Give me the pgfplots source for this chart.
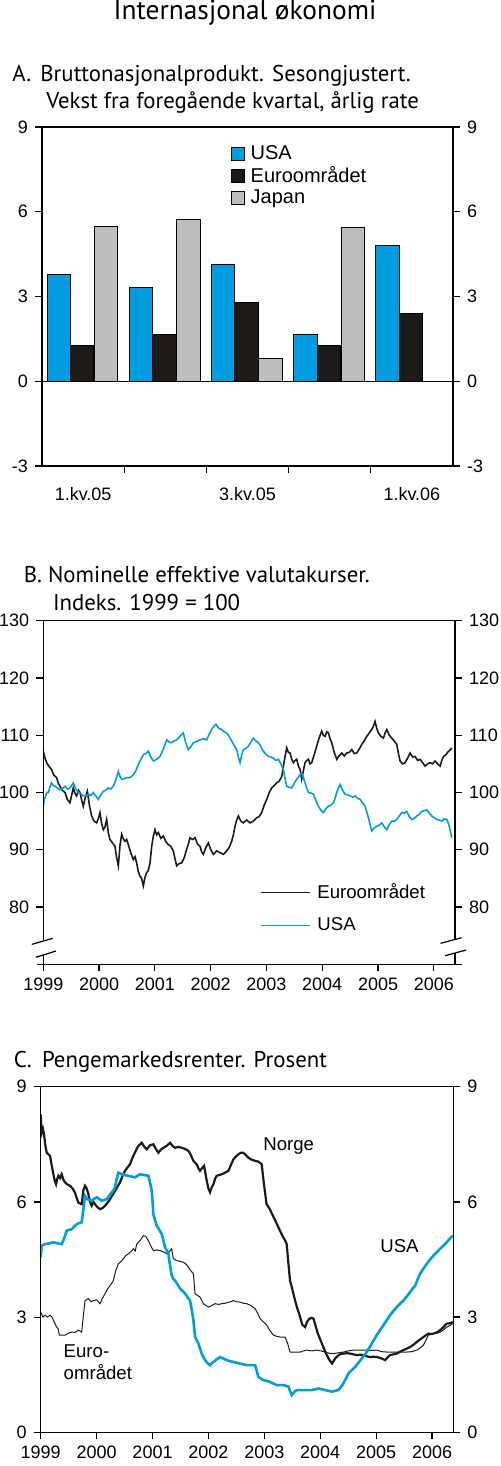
\documentclass[border=0pt]{standalone}
\usepackage{fontspec}
\setmainfont{Liberation Sans}
\newfontfamily\titlefont{PT Sans}
\usepackage{pgfplots}
\pgfplotsset{compat=1.18}
\definecolor{usablue}{RGB}{0,158,224}
\definecolor{eurblack}{RGB}{30,26,23}
\definecolor{japgray}{RGB}{190,190,190}
\newcommand{\tickf}{\fontsize{9}{10}\selectfont}
\newcommand{\labf}{\fontsize{9.3}{11}\selectfont}
\newcommand{\ptitle}{\titlefont\fontsize{11.4}{13}\selectfont}
\pgfplotsset{
  base/.style={scale only axis, anchor=north west,
    axis line style={line width=0.6pt},
    every tick/.style={line width=0.6pt, black},
    tick align=outside, major tick length=3.5pt,
    ticklabel style={font=\tickf},
    /pgf/number format/assume math mode=true,
    /pgf/number format/1000 sep={},
  },
}
\begin{document}
\begin{tikzpicture}
\path[use as bounding box] (0,0) rectangle (250pt,-733pt);
% main title
\node[anchor=base, font=\titlefont\fontsize{13.7}{16}\selectfont, inner sep=0pt] at (122.5pt,-10pt) {Internasjonal økonomi};
% panel titles
\node[anchor=base west, font=\ptitle, inner sep=0pt] at (6pt,-40.8pt) {A.};
\node[anchor=base west, font=\ptitle, inner sep=0pt] at (20pt,-40.8pt) {Bruttonasjonalprodukt. Sesongjustert.};
\node[anchor=base west, font=\ptitle, inner sep=0pt] at (23pt,-54.2pt) {Vekst fra foregående kvartal, årlig rate};
\node[anchor=base west, font=\ptitle, inner sep=0pt] at (11.7pt,-291.2pt) {B. Nominelle effektive valutakurser.};
\node[anchor=base west, font=\ptitle, inner sep=0pt] at (26.3pt,-305pt) {Indeks. 1999 = 100};
\node[anchor=base west, font=\ptitle, inner sep=0pt] at (6.7pt,-533.8pt) {C.};
\node[anchor=base west, font=\ptitle, inner sep=0pt] at (20.8pt,-533.8pt) {Pengemarkedsrenter. Prosent};

%%%%%%%%%%%%%%%% Panel A
\begin{axis}[base, at={(21pt,-63.5pt)}, width=205.5pt, height=169.5pt,
  xmin=0.5, xmax=5.5, ymin=-3, ymax=9, ytick={-3,0,3,6,9}, ytick pos=left,
  xtick={1.5,2.5,3.5,4.5}, xticklabels={}, xtick pos=left,
  extra x ticks={1,3,5}, extra x tick labels={1.kv.05,3.kv.05,1.kv.06},
  extra x tick style={major tick length=0pt, tick label style={yshift=-7pt}},
  legend style={at={(axis description cs:0.46,0.955)}, anchor=north west, draw=none, fill=none,
    font=\fontsize{10}{11}\selectfont, inner sep=0pt, row sep=-1.1pt,
    nodes={inner sep=1.5pt}},
  legend cell align=left,
  legend image code/.code={\draw[#1, line width=0.5pt] (0pt,-3.2pt) rectangle (6.4pt,3.2pt);},
  /tikz/every odd column/.append style={column sep=1.2pt},
]
\addplot[black, line width=0.6pt, forget plot] coordinates {(0.5,0) (5.5,0)};
\addplot[ybar, bar width=0.285, bar shift=-0.295, fill=usablue, draw=black, line width=0.5pt]
  coordinates {(1,3.77) (2,3.33) (3,4.15) (4,1.66) (5,4.80)};
\addplot[ybar, bar width=0.285, bar shift=-0.01, fill=eurblack, draw=black, line width=0.5pt]
  coordinates {(1,1.27) (2,1.66) (3,2.78) (4,1.27) (5,2.39)};
\addplot[ybar, bar width=0.285, bar shift=0.28, fill=japgray, draw=black, line width=0.5pt]
  coordinates {(1,5.48) (2,5.71) (3,0.82) (4,5.44)};
\legend{USA, Euroområdet, Japan}
\end{axis}
\begin{axis}[base, at={(21pt,-63.5pt)}, width=205.5pt, height=169.5pt,
  xmin=0.5, xmax=5.5, ymin=-3, ymax=9, ytick={-3,0,3,6,9},
  hide x axis, ytick pos=right, yticklabel pos=right]
\end{axis}

%%%%%%%%%%%%%%%% Panel B
\begin{axis}[base, at={(21.65pt,-310.35pt)}, width=205.85pt, height=171.8pt,
  xmin=0, xmax=7.38, ymin=70, ymax=130, ytick={80,90,100,110,120,130}, ytick pos=left,
  xtick={0,1,2,3,4,5,6,7}, xticklabels={1999,2000,2001,2002,2003,2004,2005,2006}, xtick pos=left,
  legend style={at={(axis description cs:0.525,0.245)}, anchor=north west, draw=none, fill=none,
    font=\labf, inner sep=0pt, row sep=5pt, nodes={inner sep=1.5pt}},
  legend cell align=left,
  legend image code/.code={\draw[#1] (0pt,0pt) -- (24.5pt,0pt);},
  /tikz/every odd column/.append style={column sep=2pt},
]
\addplot[eurblack, line width=0.8pt] coordinates {
(0,107.2)(0.030,106.0)(0.060,105.2)(0.100,104.6)(0.149,104.0)(0.190,103.0)(0.239,102.6)(0.270,101.6)(0.299,101.1)(0.340,100.4)(0.389,100.0)(0.430,98.8)(0.478,98.2)(0.510,99.6)(0.538,100.8)(0.570,99.8)(0.598,99.4)(0.630,100.4)(0.658,100.0)(0.690,98.6)(0.717,97.6)(0.750,99.0)(0.789,100.2)(0.830,97.6)(0.867,95.9)(0.910,95.0)(0.956,94.7)(0.985,95.4)(1.016,96.5)(1.046,94.6)(1.076,93.5)(1.106,94.0)(1.136,95.3)(1.165,93.0)(1.195,91.8)(1.240,91.2)(1.285,90.6)(1.315,88.6)(1.345,87.2)(1.375,90.8)(1.405,92.7)(1.435,91.9)(1.464,91.5)(1.494,91.8)(1.524,90.9)(1.570,89.4)(1.614,88.3)(1.644,88.8)(1.674,87.7)(1.703,86.2)(1.733,85.4)(1.763,85.0)(1.793,83.7)(1.823,85.2)(1.853,86.0)(1.883,86.4)(1.913,87.7)(1.943,90.6)(1.973,92.4)(2.002,93.5)(2.032,92.6)(2.062,93.0)(2.107,92.0)(2.152,92.4)(2.197,91.4)(2.241,90.9)(2.286,90.6)(2.331,89.8)(2.361,88.4)(2.391,87.2)(2.436,87.6)(2.481,87.7)(2.525,88.6)(2.570,90.1)(2.600,91.0)(2.630,92.1)(2.675,91.8)(2.720,92.1)(2.765,91.0)(2.809,90.6)(2.839,89.6)(2.869,89.2)(2.914,90.4)(2.959,91.2)(3.004,90.0)(3.048,89.2)(3.108,89.8)(3.168,89.5)(3.228,89.2)(3.287,89.8)(3.332,90.4)(3.377,91.5)(3.407,92.6)(3.437,94.1)(3.467,95.2)(3.497,95.9)(3.541,95.0)(3.586,94.7)(3.646,95.2)(3.706,94.7)(3.765,95.0)(3.825,95.6)(3.870,95.8)(3.915,96.5)(3.960,97.8)(4.005,98.8)(4.050,100.0)(4.094,100.8)(4.139,101.2)(4.184,101.7)(4.229,102.0)(4.274,102.8)(4.304,104.6)(4.334,106.3)(4.363,107.8)(4.393,107.0)(4.423,106.9)(4.453,105.8)(4.483,105.2)(4.513,105.6)(4.543,105.8)(4.573,104.6)(4.603,104.0)(4.632,102.3)(4.662,103.8)(4.692,105.2)(4.722,105.6)(4.752,105.8)(4.782,105.0)(4.812,105.2)(4.856,106.6)(4.901,108.1)(4.946,109.6)(4.991,110.7)(5.021,110.0)(5.051,109.8)(5.081,110.6)(5.111,110.4)(5.140,109.4)(5.170,108.7)(5.215,107.0)(5.260,105.8)(5.305,106.4)(5.350,106.9)(5.395,106.4)(5.439,106.9)(5.484,107.0)(5.529,107.5)(5.574,106.8)(5.619,106.9)(5.664,107.6)(5.708,108.4)(5.753,109.0)(5.798,109.8)(5.843,110.4)(5.888,111.0)(5.918,111.6)(5.947,112.4)(5.977,111.2)(6.007,110.4)(6.052,109.8)(6.097,109.5)(6.127,110.4)(6.157,111.0)(6.202,110.0)(6.246,109.5)(6.291,109.0)(6.336,108.4)(6.366,106.8)(6.396,105.5)(6.440,105.0)(6.485,105.2)(6.530,106.0)(6.575,106.9)(6.620,106.2)(6.665,106.3)(6.710,105.6)(6.754,105.8)(6.799,105.2)(6.844,104.6)(6.889,105.0)(6.934,105.2)(6.979,105.0)(7.023,105.5)(7.068,105.0)(7.113,104.6)(7.143,105.6)(7.173,106.3)(7.218,106.6)(7.262,107.2)(7.292,107.4)(7.322,107.8)};
\addplot[usablue, line width=0.8pt] coordinates {
(0,97.6)(0.020,98.8)(0.042,99.4)(0.066,100.0)(0.090,100.0)(0.120,101.0)(0.149,101.7)(0.179,101.2)(0.209,101.1)(0.254,100.8)(0.299,100.5)(0.344,100.7)(0.389,101.1)(0.434,100.6)(0.478,100.8)(0.508,101.2)(0.538,101.7)(0.583,100.6)(0.628,100.0)(0.672,99.8)(0.717,99.4)(0.762,99.4)(0.807,99.7)(0.852,99.5)(0.897,100.0)(0.941,99.4)(0.986,98.8)(1.031,99.6)(1.076,100.2)(1.121,100.4)(1.166,100.8)(1.210,100.6)(1.255,101.1)(1.300,102.2)(1.345,103.7)(1.375,102.8)(1.405,102.3)(1.450,102.4)(1.494,102.6)(1.554,102.6)(1.614,103.1)(1.659,103.8)(1.704,104.9)(1.749,105.8)(1.793,106.6)(1.838,106.8)(1.883,107.2)(1.928,106.2)(1.973,105.5)(2.032,105.8)(2.092,106.3)(2.152,107.6)(2.212,109.2)(2.256,108.8)(2.301,108.7)(2.346,109.0)(2.391,109.2)(2.450,109.8)(2.510,110.4)(2.555,108.6)(2.600,107.5)(2.645,108.0)(2.690,108.7)(2.750,108.9)(2.809,109.2)(2.869,109.4)(2.929,109.2)(2.974,110.2)(3.019,111.0)(3.058,111.6)(3.096,111.9)(3.147,111.2)(3.198,111.0)(3.242,110.6)(3.287,110.4)(3.332,109.8)(3.377,109.0)(3.422,108.2)(3.467,107.5)(3.497,106.2)(3.527,105.2)(3.557,106.6)(3.586,107.5)(3.631,107.7)(3.676,108.1)(3.721,108.8)(3.766,109.5)(3.810,109.0)(3.855,108.7)(3.900,108.0)(3.945,107.2)(3.990,106.7)(4.035,106.3)(4.080,106.2)(4.124,106.0)(4.169,105.6)(4.214,105.8)(4.259,105.0)(4.304,104.0)(4.334,102.4)(4.363,101.1)(4.408,100.9)(4.453,100.8)(4.498,101.6)(4.543,102.3)(4.588,102.9)(4.632,103.4)(4.662,102.6)(4.692,101.7)(4.722,100.8)(4.752,100.0)(4.797,99.9)(4.842,99.7)(4.886,98.6)(4.931,97.6)(4.976,96.9)(5.021,96.5)(5.066,97.2)(5.111,97.6)(5.155,97.8)(5.200,98.2)(5.230,99.0)(5.260,100.0)(5.290,100.8)(5.320,101.4)(5.365,100.4)(5.409,99.7)(5.454,99.6)(5.499,99.4)(5.544,99.2)(5.589,99.4)(5.633,99.0)(5.678,98.8)(5.723,98.2)(5.768,97.6)(5.798,96.6)(5.828,95.6)(5.858,94.4)(5.888,93.3)(5.932,93.8)(5.977,94.1)(6.022,94.3)(6.067,94.7)(6.112,94.0)(6.157,93.5)(6.202,94.4)(6.246,95.0)(6.291,95.0)(6.336,95.3)(6.381,95.9)(6.426,96.5)(6.470,96.4)(6.515,96.7)(6.560,95.8)(6.605,95.3)(6.650,95.5)(6.695,95.9)(6.740,96.2)(6.784,96.7)(6.829,96.8)(6.874,97.0)(6.919,96.4)(6.964,95.9)(7.008,95.6)(7.053,95.3)(7.098,95.2)(7.143,95.0)(7.188,95.4)(7.233,95.3)(7.262,94.6)(7.292,93.5)(7.322,92.1)};
\legend{Euroområdet, USA}
\end{axis}
\begin{axis}[base, at={(21.65pt,-310.35pt)}, width=205.85pt, height=171.8pt,
  xmin=0, xmax=7.38, ymin=70, ymax=130, ytick={80,90,100,110,120,130},
  hide x axis, ytick pos=right, yticklabel pos=right, clip=false]
\fill[white] (axis description cs:-0.01,0.029) rectangle (axis description cs:0.01,0.07);
\fill[white] (axis description cs:0.99,0.032) rectangle (axis description cs:1.01,0.074);
\draw[line width=0.6pt] (axis description cs:-0.028,0.058) -- (axis description cs:0.023,0.0757);
\draw[line width=0.6pt] (axis description cs:-0.018,0.0204) -- (axis description cs:0.031,0.0387);
\draw[line width=0.6pt] (axis description cs:0.965,0.0611) -- (axis description cs:1.016,0.0774);
\draw[line width=0.6pt] (axis description cs:0.976,0.025) -- (axis description cs:1.027,0.0416);
\draw[line width=0.6pt] (axis description cs:-0.016,0) -- (axis description cs:1.016,0);
\end{axis}

%%%%%%%%%%%%%%%% Panel C
\begin{axis}[base, at={(20.35pt,-543.35pt)}, width=206.3pt, height=172.8pt,
  xmin=0, xmax=7.38, ymin=0, ymax=9, ytick={0,3,6,9}, ytick pos=left,
  xtick={0,1,2,3,4,5,6,7}, xticklabels={1999,2000,2001,2002,2003,2004,2005,2006}, xtick pos=left,
]
\addplot[eurblack, line width=0.5pt] coordinates {
(0,3.13)(0.040,3.00)(0.078,3.05)(0.120,3.00)(0.167,3.05)(0.200,3.00)(0.227,2.92)(0.286,2.74)(0.310,2.70)(0.334,2.53)(0.390,2.53)(0.435,2.53)(0.495,2.58)(0.555,2.61)(0.614,2.60)(0.674,2.66)(0.733,2.61)(0.760,3.00)(0.793,3.43)(0.853,3.48)(0.900,3.40)(0.942,3.43)(1.000,3.45)(1.061,3.35)(1.100,3.48)(1.151,3.61)(1.200,3.74)(1.240,3.82)(1.300,3.95)(1.340,4.20)(1.389,4.39)(1.440,4.45)(1.479,4.52)(1.520,4.60)(1.568,4.65)(1.610,4.70)(1.658,4.78)(1.690,4.72)(1.717,4.90)(1.780,5.00)(1.837,5.12)(1.880,5.10)(1.926,4.99)(1.970,4.85)(2.016,4.73)(2.075,4.75)(2.135,4.73)(2.194,4.70)(2.254,4.65)(2.300,4.70)(2.343,4.78)(2.373,4.52)(2.433,4.47)(2.490,4.45)(2.552,4.43)(2.600,4.38)(2.642,4.30)(2.690,4.20)(2.731,4.13)(2.761,3.61)(2.810,3.56)(2.850,3.52)(2.910,3.35)(2.960,3.30)(2.999,3.26)(3.060,3.30)(3.119,3.35)(3.180,3.33)(3.238,3.35)(3.300,3.36)(3.357,3.39)(3.400,3.40)(3.447,3.43)(3.500,3.40)(3.566,3.39)(3.625,3.36)(3.685,3.35)(3.760,3.30)(3.834,3.22)(3.880,3.10)(3.924,2.96)(3.980,2.88)(4.043,2.79)(4.100,2.65)(4.162,2.53)(4.220,2.50)(4.281,2.48)(4.330,2.48)(4.371,2.48)(4.420,2.30)(4.460,2.09)(4.550,2.09)(4.639,2.09)(4.700,2.12)(4.758,2.14)(4.850,2.12)(4.937,2.14)(5.010,2.12)(5.086,2.09)(5.160,2.06)(5.236,2.05)(5.325,2.07)(5.414,2.09)(5.500,2.12)(5.593,2.14)(5.710,2.14)(5.832,2.14)(5.920,2.13)(6.011,2.14)(6.100,2.10)(6.190,2.09)(6.280,2.09)(6.368,2.09)(6.460,2.09)(6.547,2.09)(6.640,2.10)(6.726,2.14)(6.790,2.20)(6.846,2.27)(6.890,2.40)(6.935,2.53)(6.980,2.55)(7.024,2.57)(7.084,2.58)(7.144,2.61)(7.200,2.66)(7.263,2.74)(7.320,2.78)(7.370,2.83)};
\addplot[eurblack, line width=1.1pt] coordinates {
(0,8.28)(0.018,7.80)(0.040,7.90)(0.060,7.76)(0.080,7.50)(0.107,7.28)(0.137,7.24)(0.167,7.20)(0.197,6.95)(0.227,6.72)(0.250,6.55)(0.274,6.46)(0.295,6.60)(0.316,6.68)(0.346,6.62)(0.376,6.72)(0.405,6.58)(0.435,6.51)(0.480,6.45)(0.525,6.42)(0.570,6.35)(0.614,6.24)(0.644,6.10)(0.674,5.98)(0.703,5.96)(0.733,5.94)(0.763,6.30)(0.793,6.42)(0.823,6.35)(0.853,6.20)(0.882,6.00)(0.912,5.90)(0.942,6.00)(0.972,5.94)(1.016,5.86)(1.061,5.81)(1.106,5.84)(1.151,5.90)(1.196,5.98)(1.240,6.07)(1.285,6.18)(1.330,6.29)(1.375,6.40)(1.419,6.51)(1.464,6.68)(1.509,6.81)(1.553,6.90)(1.598,6.98)(1.628,7.10)(1.658,7.20)(1.703,7.34)(1.747,7.46)(1.777,7.50)(1.807,7.54)(1.852,7.44)(1.896,7.37)(1.956,7.48)(2.016,7.50)(2.060,7.38)(2.105,7.28)(2.150,7.36)(2.194,7.41)(2.254,7.46)(2.314,7.54)(2.358,7.46)(2.403,7.41)(2.463,7.43)(2.522,7.41)(2.582,7.38)(2.642,7.33)(2.686,7.22)(2.731,7.07)(2.761,7.02)(2.791,6.98)(2.820,6.88)(2.850,6.81)(2.886,6.88)(2.922,6.94)(2.946,6.75)(2.970,6.55)(3.000,6.35)(3.029,6.25)(3.059,6.38)(3.089,6.46)(3.118,6.60)(3.148,6.68)(3.193,6.70)(3.238,6.72)(3.297,6.76)(3.357,6.81)(3.402,6.96)(3.447,7.11)(3.491,7.18)(3.536,7.24)(3.580,7.28)(3.625,7.28)(3.670,7.22)(3.715,7.15)(3.774,7.10)(3.834,7.07)(3.894,7.05)(3.953,6.98)(3.990,6.50)(4.040,5.94)(4.095,5.82)(4.150,5.65)(4.200,5.50)(4.250,5.34)(4.290,5.22)(4.330,5.10)(4.370,5.00)(4.400,4.90)(4.430,4.40)(4.460,3.95)(4.505,3.70)(4.550,3.43)(4.585,3.25)(4.620,3.10)(4.650,2.95)(4.680,2.80)(4.730,2.74)(4.765,2.88)(4.800,2.95)(4.840,2.98)(4.880,2.96)(4.915,2.78)(4.950,2.60)(4.990,2.45)(5.030,2.31)(5.075,2.15)(5.120,2.00)(5.165,1.88)(5.210,1.79)(5.265,1.92)(5.320,2.00)(5.370,2.04)(5.414,2.05)(5.474,2.06)(5.534,2.05)(5.594,2.03)(5.653,2.01)(5.713,2.02)(5.772,2.01)(5.832,1.98)(5.891,1.96)(5.951,1.97)(6.011,1.96)(6.085,1.93)(6.160,1.88)(6.205,1.95)(6.249,2.01)(6.309,2.03)(6.368,2.05)(6.428,2.10)(6.488,2.14)(6.548,2.18)(6.607,2.22)(6.667,2.28)(6.726,2.35)(6.786,2.42)(6.846,2.48)(6.891,2.53)(6.935,2.57)(6.980,2.56)(7.024,2.57)(7.084,2.60)(7.144,2.66)(7.203,2.74)(7.263,2.83)(7.320,2.84)(7.370,2.87)};
\addplot[usablue, line width=1.3pt] coordinates {
(0,4.56)(0.018,4.86)(0.078,4.90)(0.150,4.92)(0.227,4.95)(0.300,4.92)(0.376,4.90)(0.420,5.05)(0.465,5.25)(0.510,5.27)(0.555,5.29)(0.600,5.36)(0.644,5.42)(0.690,5.45)(0.733,5.47)(0.763,5.80)(0.793,6.16)(0.835,6.07)(0.873,6.05)(0.912,6.03)(0.957,6.08)(1.002,6.12)(1.046,6.08)(1.091,6.03)(1.136,6.05)(1.181,6.07)(1.225,6.16)(1.270,6.25)(1.300,6.30)(1.330,6.38)(1.360,6.60)(1.389,6.76)(1.419,6.74)(1.449,6.72)(1.508,6.70)(1.568,6.68)(1.628,6.66)(1.688,6.64)(1.732,6.68)(1.777,6.72)(1.852,6.70)(1.926,6.68)(1.956,6.50)(1.986,6.29)(2.001,6.00)(2.016,5.68)(2.045,5.52)(2.075,5.38)(2.120,5.28)(2.165,5.16)(2.194,5.00)(2.224,4.82)(2.254,4.74)(2.284,4.65)(2.313,4.35)(2.343,4.08)(2.373,4.00)(2.403,3.95)(2.448,3.85)(2.493,3.74)(2.537,3.68)(2.582,3.61)(2.627,3.52)(2.671,3.43)(2.701,3.20)(2.731,2.92)(2.746,2.70)(2.761,2.48)(2.791,2.40)(2.821,2.31)(2.850,2.18)(2.880,2.05)(2.910,1.96)(2.940,1.88)(2.985,1.80)(3.029,1.75)(3.059,1.80)(3.089,1.83)(3.148,1.90)(3.208,1.96)(3.267,1.92)(3.327,1.88)(3.387,1.85)(3.447,1.83)(3.506,1.81)(3.566,1.79)(3.625,1.77)(3.685,1.75)(3.760,1.75)(3.834,1.75)(3.864,1.60)(3.894,1.44)(3.939,1.40)(3.983,1.36)(4.043,1.34)(4.103,1.31)(4.162,1.27)(4.222,1.23)(4.281,1.23)(4.341,1.23)(4.386,1.21)(4.431,1.19)(4.460,1.08)(4.490,0.97)(4.535,1.05)(4.580,1.10)(4.640,1.10)(4.699,1.10)(4.774,1.10)(4.848,1.10)(4.908,1.12)(4.967,1.14)(5.027,1.12)(5.086,1.10)(5.146,1.08)(5.206,1.06)(5.265,1.08)(5.325,1.10)(5.370,1.18)(5.414,1.27)(5.459,1.40)(5.504,1.53)(5.564,1.62)(5.623,1.70)(5.683,1.81)(5.742,1.92)(5.787,2.00)(5.832,2.09)(5.877,2.20)(5.921,2.31)(5.966,2.42)(6.011,2.53)(6.071,2.66)(6.130,2.79)(6.190,2.92)(6.249,3.05)(6.309,3.16)(6.368,3.26)(6.428,3.35)(6.488,3.43)(6.548,3.54)(6.607,3.65)(6.652,3.74)(6.697,3.82)(6.742,3.98)(6.786,4.13)(6.846,4.26)(6.905,4.39)(6.965,4.50)(7.024,4.60)(7.084,4.69)(7.144,4.78)(7.203,4.86)(7.263,4.95)(7.317,5.04)(7.370,5.12)};
\end{axis}
\begin{axis}[base, at={(20.35pt,-543.35pt)}, width=206.3pt, height=172.8pt,
  xmin=0, xmax=7.38, ymin=0, ymax=9, ytick={0,3,6,9},
  hide x axis, ytick pos=right, yticklabel pos=right, clip=false]
\draw[line width=0.6pt] (axis description cs:-0.016,0) -- (axis description cs:1.0,0);
\end{axis}
\node[anchor=base west, font=\labf, inner sep=0pt] at (131.5pt,-575.35pt) {Norge};
\node[anchor=base west, font=\labf, inner sep=0pt] at (190pt,-626.35pt) {USA};
\node[anchor=base west, font=\labf, inner sep=0pt, align=left] at (31.67pt,-678.8pt) {Euro-};
\node[anchor=base west, font=\labf, inner sep=0pt] at (31.67pt,-689.7pt) {området};
\end{tikzpicture}
\end{document}
